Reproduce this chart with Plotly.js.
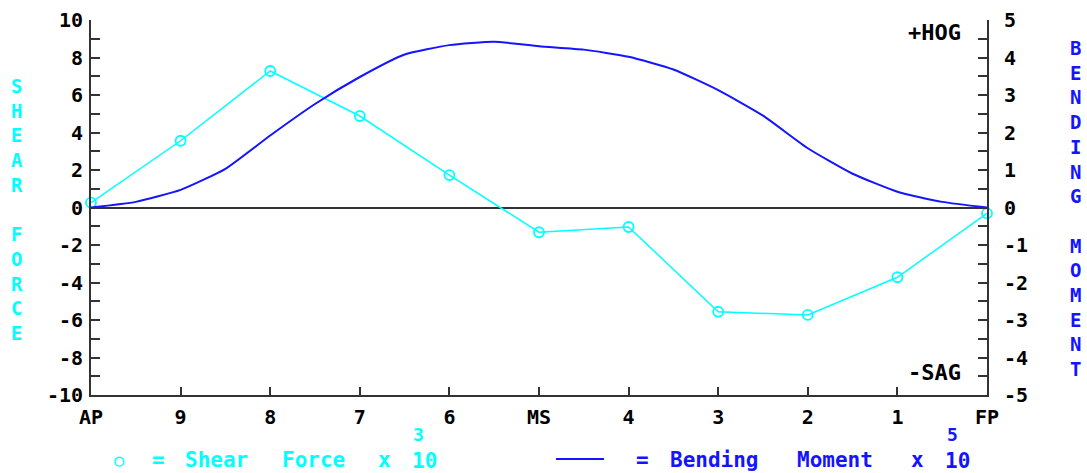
<!DOCTYPE html>
<html>
<head>
<meta charset="utf-8">
<script src="https://cdn.plot.ly/plotly-3.0.1.min.js"></script>
<style>html,body{margin:0;padding:0;background:#fff;}#chart{width:1087px;height:473px;}</style>
</head>
<body>
<div id="chart"></div>
<script>
// Stations along the hull (AP = aft perpendicular, MS = midship, FP = forward perpendicular)
const stationLabels = ["AP","9","8","7","6","MS","4","3","2","1","FP"];
const stationPos = [0,1,2,3,4,5,6,7,8,9,10];

// Shear force (x 10^3) at each station
const shearForce = [0.26, 3.56, 7.28, 4.88, 1.73, -1.32, -1.04, -5.56, -5.73, -3.72, -0.31];

// Bending moment (x 10^5) at half-stations
const bmPos = [0,0.5,1,1.5,2,2.5,3,3.5,4,4.5,5,5.5,6,6.5,7,7.5,8,8.5,9,9.5,10];
const bendingMoment = [0, 0.15, 0.47, 1.03, 1.92, 2.76, 3.48, 4.08, 4.33, 4.42, 4.30, 4.21, 4.02, 3.68, 3.13, 2.45, 1.58, 0.90, 0.42, 0.15, 0];

// Tick labels
const leftTickVals = [-10,-8,-6,-4,-2,0,2,4,6,8,10];
const leftTickText = ["-10","-8","-6","-4","-2","0","2","4","6","8","10"];
const rightTickVals = [-5,-4,-3,-2,-1,0,1,2,3,4,5];
const rightTickText = ["-5","-4","-3","-2","-1","0","1","2","3","4","5"];

const MONO = "DejaVu Sans Mono, Liberation Mono, monospace";
const CYAN = "#00ffff";
const BLUE = "#1414ff";
const AX = "#333333";

const traces = [
  {
    x: bmPos, y: bendingMoment, yaxis: "y2", type: "scatter", mode: "lines",
    line: {color: BLUE, width: 2, shape: "spline", smoothing: 0.5},
    cliponaxis: false, hoverinfo: "skip"
  },
  {
    x: stationPos, y: shearForce, type: "scatter", mode: "lines+markers",
    line: {color: CYAN, width: 1.5},
    marker: {symbol: "circle-open", size: 10, color: CYAN, line: {color: CYAN, width: 1.8}},
    cliponaxis: false, hoverinfo: "skip"
  }
];

const tickFont = {family: MONO, size: 20, color: "#000", weight: "bold"};
const W = 896, H = 375, L = 91, T = 20;
function px(xp){ return (xp - L) / W; }
function py(yp){ return (T + H - yp) / H; }

function ann(text, xpix, ypix, color, anchor, size){
  return {text: text, xref: "paper", yref: "paper", x: px(xpix), y: py(ypix),
    xanchor: anchor || "left", yanchor: "middle", showarrow: false, borderpad: 0,
    font: {family: MONO, size: size || 21, color: color, weight: "bold"}};
}

const layout = {
  width: 1087, height: 473,
  margin: {l: 91, r: 100, t: 20, b: 78},
  paper_bgcolor: "#fff", plot_bgcolor: "#fff",
  showlegend: false,
  xaxis: {
    range: [0, 10], tickvals: stationPos, ticktext: stationLabels,
    ticks: "inside", ticklen: 8, tickwidth: 2, tickcolor: AX,
    showline: true, linecolor: AX, linewidth: 2, showgrid: false, zeroline: false,
    tickfont: tickFont, ticklabelstandoff: 3
  },
  yaxis: {
    range: [-10, 10], tickvals: leftTickVals, ticktext: leftTickText,
    ticks: "inside", ticklen: 9, tickwidth: 2, tickcolor: AX,
    minor: {dtick: 1, ticks: "inside", ticklen: 9, tickwidth: 2, tickcolor: AX},
    showline: true, linecolor: AX, linewidth: 2, showgrid: false,
    zeroline: true, zerolinecolor: AX, zerolinewidth: 2,
    tickfont: tickFont, ticklabelstandoff: 2
  },
  yaxis2: {
    range: [-5, 5], overlaying: "y", side: "right",
    tickvals: rightTickVals, ticktext: rightTickText,
    ticks: "inside", ticklen: 9, tickwidth: 2, tickcolor: AX,
    minor: {dtick: 0.5, ticks: "inside", ticklen: 9, tickwidth: 2, tickcolor: AX},
    showline: true, linecolor: AX, linewidth: 2, showgrid: false, zeroline: false,
    tickfont: tickFont, ticklabelstandoff: 11
  },
  annotations: [
    // vertical axis titles
    {text: "S<br>H<br>E<br>A<br>R<br>\u00a0<br>F<br>O<br>R<br>C<br>E", xref: "paper", yref: "paper",
      x: px(17), y: py(209), xanchor: "center", yanchor: "middle", showarrow: false,
      font: {family: MONO, size: 19, color: CYAN, weight: "bold"}},
    {text: "B<br>E<br>N<br>D<br>I<br>N<br>G<br>\u00a0<br>M<br>O<br>M<br>E<br>N<br>T", xref: "paper", yref: "paper",
      x: px(1075), y: py(208.5), xanchor: "center", yanchor: "middle", showarrow: false,
      font: {family: MONO, size: 19, color: BLUE, weight: "bold"}},
    // HOG / SAG
    ann("+HOG", 962, 33, "#000", "right", 22),
    ann("-SAG", 962, 372, "#000", "right", 22),
    // legend: shear force
    ann("\u25cb", 119, 460, CYAN, "center", 17),
    ann("=", 158, 460, CYAN, "center"),
    ann("Shear", 184, 460, CYAN, "left"),
    ann("Force", 281, 460, CYAN, "left"),
    ann("x", 384, 460, CYAN, "center"),
    ann("10", 411, 461, CYAN, "left"),
    ann("3", 418, 434, CYAN, "center", 18),
    // legend: bending moment
    ann("=", 642, 460, BLUE, "center"),
    ann("Bending", 669, 460, BLUE, "left"),
    ann("Moment", 796, 460, BLUE, "left"),
    ann("x", 917, 460, BLUE, "center"),
    ann("10", 944, 461, BLUE, "left"),
    ann("5", 952, 434, BLUE, "center", 18)
  ],
  shapes: [
    {type: "line", xref: "paper", yref: "paper", x0: px(556), x1: px(604), y0: py(459), y1: py(459),
      line: {color: BLUE, width: 2}}
  ]
};

Plotly.newPlot("chart", traces, layout, {displayModeBar: false, staticPlot: true});
</script>
</body>
</html>
